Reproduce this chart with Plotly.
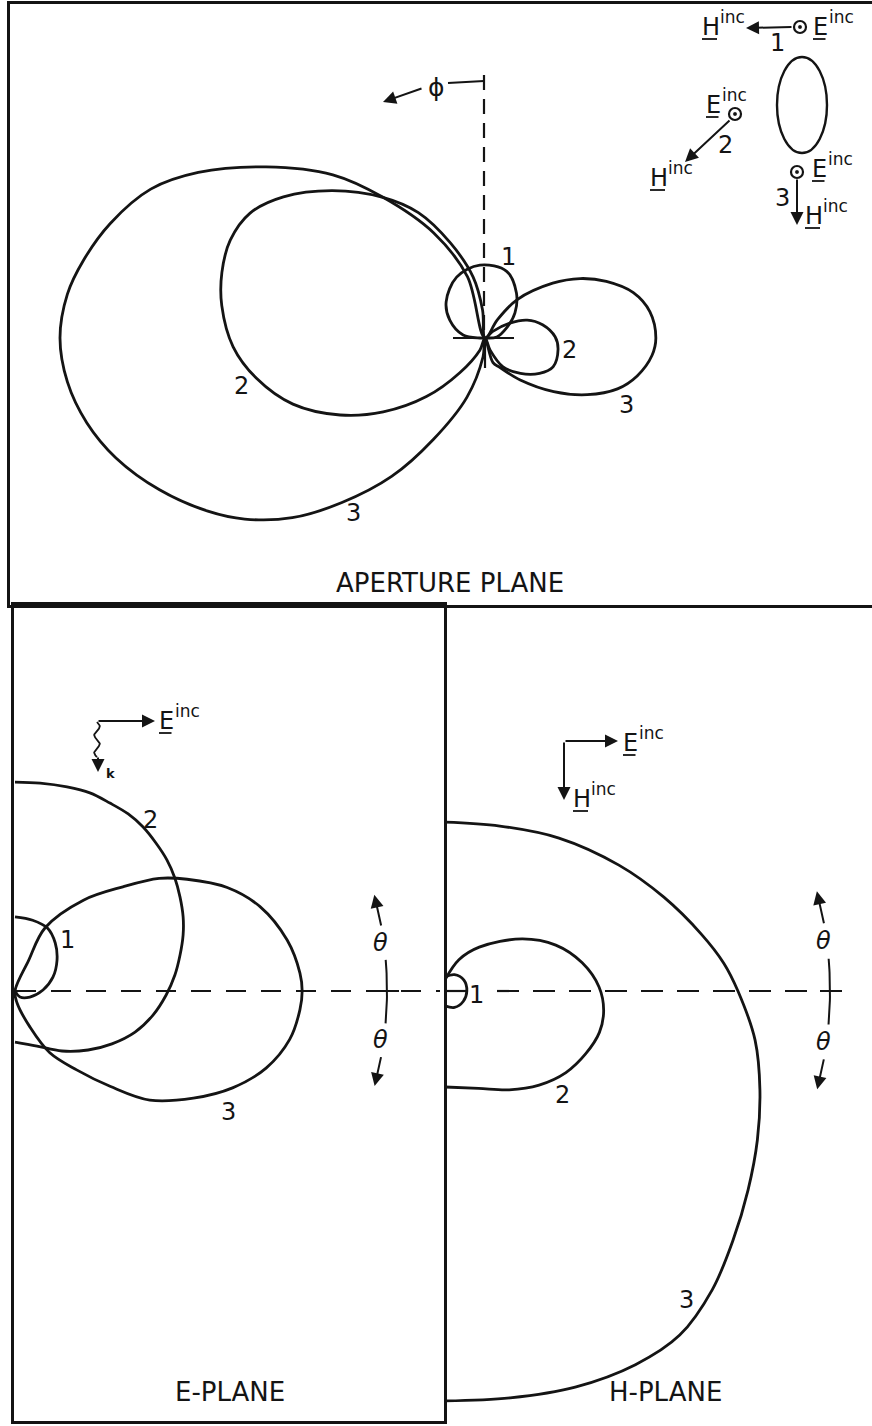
import numpy as np
import plotly.graph_objects as go

# ---------------- radiation pattern data (relative field amplitude) ----------------
# Aperture plane: phi in degrees from the upward reference axis, counter-clockwise
ap_phi_1 = [-95, -85, -65, -50, -35, -18, 4, 25, 47, 63, 82, 90, 95]
ap_amp_1 = [0, 2.8, 5.6, 9.2, 12.9, 16.5, 17.2, 15.8, 12.5, 9.3, 5.2, 1.2, 0]

ap_phi_2 = [0, 5, 11, 20, 28, 36, 46, 55, 62, 69, 76, 83, 92, 100, 109, 118, 126, 135, 144, 157, 180,
            203, 212, 225, 237, 247, 261, 271, 283, 293, 301, 310, 330]
ap_amp_2 = [0, 6.6, 14.6, 23.8, 33.4, 40.9, 49.9, 57.9, 62.6, 64.2, 63.8, 62.4, 59.3, 54.6, 47.8, 38.6,
            29.6, 19.5, 10.1, 3.1, 0,
            3.1, 8.0, 11.8, 15.3, 17.4, 17.4, 16.5, 13.9, 10.8, 6.8, 2.4, 0]

ap_phi_3 = [0, 16, 26, 36, 43, 52, 60, 66, 73, 79, 84, 90, 96, 102, 108, 115, 122, 127, 133, 139, 146,
            153, 163, 174, 180,
            198, 207, 220, 232, 241, 249, 256, 264, 270, 279, 287, 295, 302, 309, 320, 326, 335]
ap_amp_3 = [0, 15, 27.5, 41, 52.5, 65.4, 77.9, 86.1, 92.2, 96.2, 98.8, 100, 98.8, 95.8, 91.3, 84.5, 76.9,
            70.8, 62.0, 51.3, 39.3, 26.8, 14.6, 4.5, 0,
            6.1, 7.8, 12.9, 20.5, 27.5, 33.4, 36.9, 39.5, 40.2, 39.3, 36.5, 31.5, 26.4, 20.5, 11.8, 5.1, 0]

# E-plane: theta in degrees from broadside, positive upward
ep_th_1 = [90, 76, 63, 50, 36, 20, 2, -22, -50, -90]
ep_amp_1 = [18.0, 17.7, 17.2, 15.2, 12.6, 9.8, 6.8, 3.9, 1.9, 0]

ep_th_2 = [90, 83.1, 75.7, 69.3, 63.2, 57.4, 52, 46.4, 40.8, 35.2, 29.7, 23.8, 18.4, 12.3, 5.7, -1.5,
           -9.9, -18.9, -28.6, -38.9, -51.9, -68.2, -90]
ep_amp_2 = [50.7, 50.8, 51.1, 51.4, 51.1, 51.0, 50.5, 49.6, 48.7, 47.5, 46.1, 44.6, 43.0, 41.0, 39.0,
            36.7, 34.0, 30.8, 26.8, 22.8, 18.5, 14.4, 12.4]

ep_th_3 = [90, 66, 64.5, 53, 44, 38, 33, 26, 19, 10.6, 3.6, 0, -3.8, -10, -17, -24, -31, -39, -45, -52,
           -60.6, -67.4, -80.5, -90]
ep_amp_3 = [0, 8.0, 17.0, 27.6, 36.4, 44.4, 49.8, 57.3, 62.9, 67.2, 69.3, 69.7, 69.3, 67.7, 63.8, 57.8,
            50.5, 42.1, 32.8, 24.3, 17.2, 9.5, 2.9, 0]

# H-plane: theta in degrees from broadside, positive upward
hp_th_1 = [90, 60, 30, 0, -30, -60, -90]
hp_amp_1 = [3.4, 4.6, 5.3, 5.3, 5.1, 4.6, 3.6]

hp_th_2 = [90, 66, 52, 34, 22.5, 11.6, 1.5, -7, -15, -24, -34, -45, -57, -71, -90]
hp_amp_2 = [2.7, 8.3, 13.5, 22.6, 29.1, 34.0, 37.4, 38.8, 38.8, 37.4, 35.4, 32.3, 28.6, 25.0, 23.3]

hp_th_3 = [90, 71.6, 53.3, 35.9, 23.2, 12.4, 5.7, 0, -9, -17.4, -25.5, -33.3, -40.8, -48.2, -55.7, -63,
           -71.8, -80.9, -90]
hp_amp_3 = [41.0, 42.2, 46.3, 52.1, 57.8, 63.8, 68.0, 71.1, 76.2, 80.1, 84.0, 88.0, 92.4, 97.3, 101.1,
            101.8, 101.2, 100.0, 99.5]

# ---------------- page geometry ----------------
W, H = 872, 1426
INK = '#141414'
FONT = 'DejaVu Sans'
LW = 2.8

# origin (px), pixels per amplitude unit, and frame of each panel
panels = {
    'top': dict(ox=485, oy=338, s=4.25, x0=10, x1=872, y0=4, y1=605, ax=''),
    'e': dict(ox=15, oy=991, s=4.12, x0=14, x1=444, y0=605, y1=1421, ax='2'),
    'h': dict(ox=445, oy=991, s=4.12, x0=444, x1=872, y0=605, y1=1421, ax='3'),
}

fig = go.Figure()


def aperture_xy(phi, amp):
    t = np.radians(phi)
    a = np.asarray(amp, float)
    return -a * np.sin(t), a * np.cos(t)


def plane_xy(theta, amp):
    t = np.radians(theta)
    a = np.asarray(amp, float)
    return a * np.cos(t), a * np.sin(t)


def add_curve(xy, ax):
    x, y = xy
    fig.add_trace(go.Scatter(x=x, y=y, mode='lines',
                             line=dict(color=INK, width=LW, shape='spline', smoothing=1.0),
                             xaxis='x' + ax, yaxis='y' + ax, hoverinfo='skip', showlegend=False))


add_curve(aperture_xy(ap_phi_1, ap_amp_1), '')
add_curve(aperture_xy(ap_phi_2, ap_amp_2), '')
add_curve(aperture_xy(ap_phi_3, ap_amp_3), '')
add_curve(plane_xy(ep_th_1, ep_amp_1), '2')
add_curve(plane_xy(ep_th_2, ep_amp_2), '2')
add_curve(plane_xy(ep_th_3, ep_amp_3), '2')
add_curve(plane_xy(hp_th_1, hp_amp_1), '3')
add_curve(plane_xy(hp_th_2, hp_amp_2), '3')
add_curve(plane_xy(hp_th_3, hp_amp_3), '3')


# ---------------- drawing helpers on a page-sized overlay axis ----------------
def seg(xs, ys, dash='solid', w=2.2):
    fig.add_trace(go.Scatter(x=xs, y=ys, mode='lines', line=dict(color=INK, width=w, dash=dash),
                             xaxis='x4', yaxis='y4', hoverinfo='skip', showlegend=False))


def label(x, y, s, size=24, style='normal', weight='normal', **kw):
    fig.add_annotation(x=x, y=y, xref='x4', yref='y4', text=s, showarrow=False,
                       font=dict(family=FONT, size=size, color=INK, style=style, weight=weight), **kw)


def arrow(x0, y0, x1, y1, w=2.0):
    fig.add_annotation(x=x1, y=y1, ax=x0, ay=y0, xref='x4', yref='y4', axref='x4', ayref='y4',
                       text='', showarrow=True, arrowhead=2, arrowsize=1.3, arrowwidth=w,
                       arrowcolor=INK, standoff=0, startstandoff=0)


def ring(cx, cy, rx, ry, fill=False, w=2.2):
    fig.add_shape(type='circle', xref='x4', yref='y4', x0=cx - rx, x1=cx + rx, y0=cy - ry, y1=cy + ry,
                  line=dict(color=INK, width=w), fillcolor=INK if fill else 'rgba(0,0,0,0)')


def dot_circle(cx, cy):
    ring(cx, cy, 6, 6)
    ring(cx, cy, 1.7, 1.7, fill=True, w=0.5)


def theta_marks(cx, cy, R, x_tick):
    a = np.radians(np.linspace(-5, 4.8, 20))
    seg(cx + R * np.cos(a), cy - R * np.sin(a), w=2.0)
    for t0, t1 in [(9.9, 15.0), (-10.0, -14.8)]:
        arrow(cx + R * np.cos(np.radians(t0)), cy - R * np.sin(np.radians(t0)),
              cx + R * np.cos(np.radians(t1)), cy - R * np.sin(np.radians(t1)))
    seg([x_tick - 10, x_tick + 12], [cy, cy], w=2.0)
    for t in (7.4, -7.6):
        label(cx + R * np.cos(np.radians(t)) - 3, cy - R * np.sin(np.radians(t)), 'θ', size=24,
              style='italic')


ADV = {'E': 15.5, 'H': 18.0}


def vec(x, y, letter, size=24):
    # underlined vector letter with an "inc" superscript
    label(x, y + 1, letter, size=size, xanchor='left', yanchor='middle')
    label(x + ADV[letter], y - 9, 'inc', size=17, xanchor='left', yanchor='middle')
    seg([x + 2, x + ADV[letter] - 1], [y + 13, y + 13], w=1.8)


# ---- aperture plane decorations ----
seg([484, 484], [75, 338], dash='15px,9px')
seg([485, 485], [338, 368])
seg([453, 514], [338, 338])
seg([484, 448], [81, 83])
label(436, 87, 'ϕ', size=25)
arrow(423, 88, 383, 102)

ring(802, 105, 25, 48, w=2.4)
dot_circle(800, 27)
arrow(793, 27, 746, 28)
vec(700, 26, 'H')
vec(811, 26, 'E')
label(777, 43, '1')
vec(704, 104, 'E')
dot_circle(735, 114)
arrow(731, 119, 685, 162)
label(725, 145, '2')
vec(648, 177, 'H')
dot_circle(797, 172)
vec(810, 168, 'E')
arrow(797, 178, 797, 225)
label(782, 198, '3')
vec(803, 215, 'H')

label(508, 257, '1')
label(241, 386, '2')
label(569, 350, '2')
label(353, 513, '3')
label(626, 405, '3')
label(450, 583, 'APERTURE PLANE', size=26)

# ---- E-plane decorations ----
seg([16, 440], [991, 991], dash='20px,15px')
theta_marks(15, 991, 372, 387)
arrow(97, 721, 155, 721)
wy = np.linspace(722, 757, 60)
seg(97 + 2.8 * np.sin((wy - 722) / 35 * 4 * np.pi), wy, w=1.8)
arrow(98, 756, 98, 772)
label(110, 773, 'k', size=13, weight='bold')
vec(157, 720, 'E')
label(150, 820, '2')
label(67, 940, '1')
label(228, 1112, '3')
label(230, 1392, 'E-PLANE', size=26)

# ---- H-plane decorations ----
seg([446, 466], [991, 991])
seg([497, 842], [991, 991], dash='22px,14px')
theta_marks(445, 991, 385, 830)
arrow(564, 741, 618, 741)
arrow(564, 741, 564, 800)
vec(621, 742, 'E')
vec(571, 798, 'H')
label(476, 995, '1')
label(562, 1095, '2')
label(686, 1300, '3')
label(665, 1392, 'H-PLANE', size=26)


# ---------------- axes: one pair per panel, frames from axis lines ----------------
def axis_pair(p, xline, xmirror, yline, ymirror):
    base = dict(showgrid=False, zeroline=False, showticklabels=False, ticks='', fixedrange=True,
                linecolor=INK, linewidth=2.8)
    xa = dict(base, domain=[p['x0'] / W, p['x1'] / W],
              range=[(p['x0'] - p['ox']) / p['s'], (p['x1'] - p['ox']) / p['s']],
              showline=xline, mirror=xmirror, anchor='y' + p['ax'])
    ya = dict(base, domain=[1 - p['y1'] / H, 1 - p['y0'] / H],
              range=[(p['oy'] - p['y1']) / p['s'], (p['oy'] - p['y0']) / p['s']],
              showline=yline, mirror=ymirror, anchor='x' + p['ax'])
    return xa, ya


xa1, ya1 = axis_pair(panels['top'], True, True, True, False)
xa2, ya2 = axis_pair(panels['e'], True, True, True, True)
xa3, ya3 = axis_pair(panels['h'], False, False, False, False)

fig.update_layout(
    width=W, height=H, margin=dict(l=0, r=0, t=0, b=0),
    paper_bgcolor='white', plot_bgcolor='rgba(0,0,0,0)', showlegend=False,
    xaxis=xa1, yaxis=ya1, xaxis2=xa2, yaxis2=ya2, xaxis3=xa3, yaxis3=ya3,
    xaxis4=dict(domain=[0, 1], range=[0, W], visible=False, anchor='y4', fixedrange=True),
    yaxis4=dict(domain=[0, 1], range=[H, 0], visible=False, anchor='x4', fixedrange=True),
)

fig.write_html('out.html')
